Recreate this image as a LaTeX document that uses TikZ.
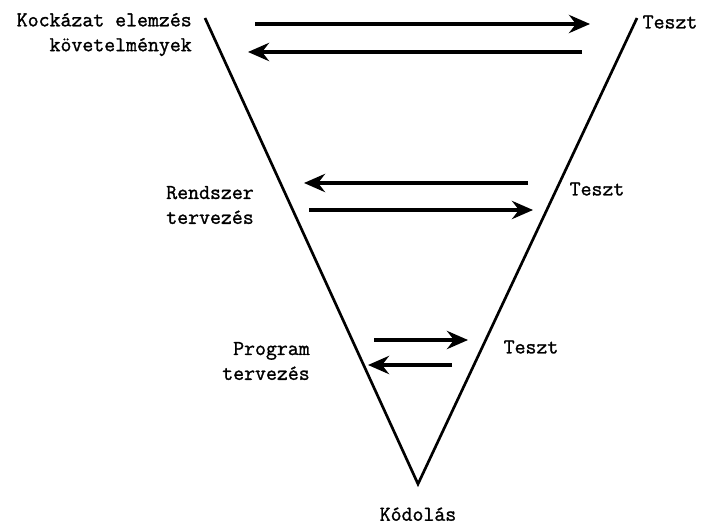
\documentclass[tikz,border=0pt]{standalone}
\usepackage{fontspec}
\newfontfamily\labelfont[FakeBold=1.3]{Latin Modern Mono}
\usepackage{tikz}
\usetikzlibrary{arrows.meta,positioning}

\begin{document}
\begin{tikzpicture}[
  font=\labelfont\fontsize{15.1}{17.7}\selectfont,
  vline/.style={line width=1.9pt},
  flow/.style={line width=2.2pt, -{Stealth[length=15pt, width=13pt, inset=5pt]}},
  phase/.style={inner sep=0pt, align=left},
  test/.style={inner sep=0pt}
]
\useasboundingbox (0,0) rectangle (17.55,13.125);
% the V
\coordinate (lefttop) at (5.125,12.675);
\coordinate (righttop) at (15.925,12.675);
\coordinate (bottom) at (10.45,1.025);
\draw[vline] (lefttop) -- (bottom) -- (righttop);
% labels
\node[phase, align=right, anchor=east] (risk) at (4.8,12.26) {Kockázat elemzés\\követelmények};
\node[test] (test1) at (16.75,12.575) {Teszt};
\node[phase, anchor=west] (system) at (4.15,8.0) {Rendszer\\tervezés};
\node[test] (test2) at (14.925,8.4) {Teszt};
\node[phase, align=right, anchor=east] (program) at (7.75,4.1) {Program\\tervezés};
\node[test] (test3) at (13.275,4.45) {Teszt};
\node[test] (code) at (10.45,0.27) {Kódolás};
% arrows
\coordinate (a1s) at (6.375,12.525);  \coordinate (a1e) at (14.75,12.525);
\coordinate (a2s) at (14.55,11.825);  \coordinate (a2e) at (6.2,11.825);
\coordinate (b1s) at (13.2,8.55);     \coordinate (b1e) at (7.6,8.55);
\coordinate (b2s) at (7.725,7.875);   \coordinate (b2e) at (13.325,7.875);
\coordinate (c1s) at (9.35,4.625);    \coordinate (c1e) at (11.7,4.625);
\coordinate (c2s) at (11.3,4.0);      \coordinate (c2e) at (9.2,4.0);
\foreach \s/\e in {a1s/a1e,a2s/a2e,b1s/b1e,b2s/b2e,c1s/c1e,c2s/c2e}
  \draw[flow] (\s) -- (\e);
\end{tikzpicture}
\end{document}
